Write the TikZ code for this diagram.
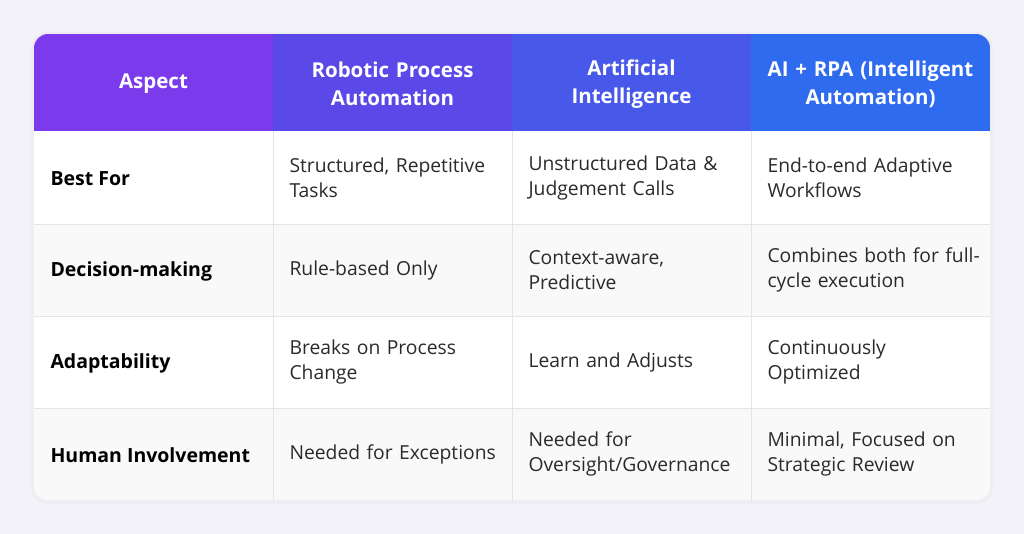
\documentclass[tikz,border=0pt]{standalone}
\usepackage{fontspec}
\setmainfont{Open Sans}
\definecolor{bg}{HTML}{F3F2F8}
\definecolor{hA}{HTML}{7C3AED}
\definecolor{hB}{HTML}{5B48E8}
\definecolor{hC}{HTML}{4859EA}
\definecolor{hD}{HTML}{2F6BEE}
\definecolor{rowg}{HTML}{F9F9FA}
\definecolor{gridc}{HTML}{E4E4E7}
\definecolor{txt}{HTML}{2A2A2A}
\begin{document}
\begin{tikzpicture}[x=1pt,y=-1pt,
  hd/.style={text=white,font=\fontsize{20.5}{28}\selectfont\bfseries,align=center,anchor=center,text width=230pt},
  lab/.style={text=black,font=\fontsize{19.5}{25}\selectfont\bfseries,anchor=west},
  cel/.style={text=txt,font=\fontsize{19.3}{25}\selectfont,anchor=west,align=left,text width=230pt}]
\fill[bg] (0,0) rectangle (1024,534);
\fill[black,opacity=0.02,rounded corners=16pt] (31,32) rectangle (993,504);
\begin{scope}
\clip[rounded corners=14pt] (34,34) rectangle (990,500);
\fill[white] (34,34) rectangle (990,500);
\fill[hA] (34,34) rectangle (273,131);
\fill[hB] (273,34) rectangle (512,131);
\fill[hC] (512,34) rectangle (751,131);
\fill[hD] (751,34) rectangle (990,131);
\fill[rowg] (34,224) rectangle (990,316);
\fill[rowg] (34,408) rectangle (990,500);
\foreach \y in {224,316,408} \draw[gridc] (34,\y) -- (990,\y);
\foreach \x in {273,512,751} \draw[gridc] (\x,131) -- (\x,500);
\end{scope}
\node[hd] (h1) at (153.5,84) {Aspect};
\node[hd] (h2) at (392.5,84) {Robotic Process\\Automation};
\node[hd] (h3) at (631.5,84) {Artificial\\Intelligence};
\node[hd] (h4) at (870.5,84) {AI + RPA (Intelligent\\Automation)};
\node[lab] (l1) at (47,179) {Best For};
\node[lab] (l2) at (47,271) {Decision-making};
\node[lab] (l3) at (47,363) {Adaptability};
\node[lab] (l4) at (47,455) {Human Involvement};
\node[cel] (a1) at (286,178) {Structured, Repetitive\\Tasks};
\node[cel] (b1) at (525,178) {Unstructured Data \&\\Judgement Calls};
\node[cel] (c1) at (764,178) {End-to-end Adaptive\\Workflows};
\node[cel] (a2) at (286,270) {Rule-based Only};
\node[cel] (b2) at (525,270) {Context-aware,\\Predictive};
\node[cel] (c2) at (764,270) {Combines both for full-\\cycle execution};
\node[cel] (a3) at (286,362) {Breaks on Process\\Change};
\node[cel] (b3) at (525,362) {Learn and Adjusts};
\node[cel] (c3) at (764,362) {Continuously\\Optimized};
\node[cel] (a4) at (286,454) {Needed for Exceptions};
\node[cel] (b4) at (525,454) {Needed for\\Oversight/Governance};
\node[cel] (c4) at (764,454) {Minimal, Focused on\\Strategic Review};
\end{tikzpicture}
\end{document}
